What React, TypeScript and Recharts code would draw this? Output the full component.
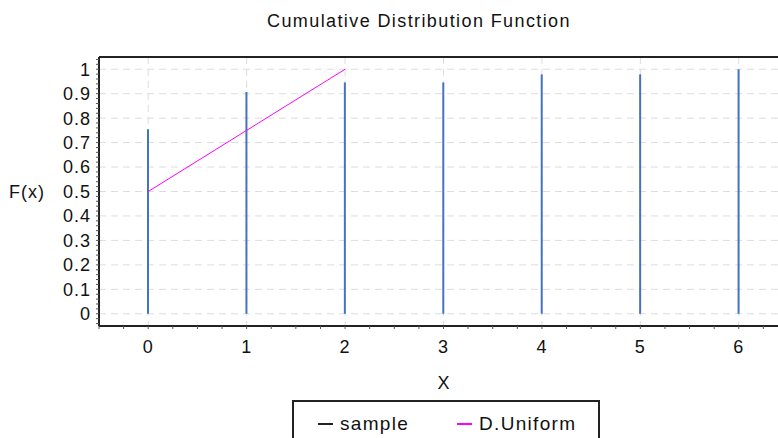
import {
  ComposedChart,
  Bar,
  Line,
  XAxis,
  YAxis,
  CartesianGrid,
  Legend,
  ReferenceLine,
} from "recharts";

const X_VALUES = [0, 1, 2, 3, 4, 5, 6];
const SAMPLE_CDF = [0.755, 0.907, 0.946, 0.946, 0.979, 0.979, 1.0];
const UNIFORM_CDF = [0.5, 0.75, 1.0, null, null, null, null];

const X_LABELS = [0, 1, 2, 3, 4, 5, 6];
const Y_LABELS = [0, 0.1, 0.2, 0.3, 0.4, 0.5, 0.6, 0.7, 0.8, 0.9, 1];

// minor tick marks, quarter steps on x and 0.02 steps on y
const X_MINOR = Array.from({ length: 29 }, (_, i) => -0.5 + i * 0.25);
const Y_MINOR = Array.from({ length: 55 }, (_, i) => Math.round(-4 + i * 2) / 100);

const BLUE = "#4472C4";
const MAGENTA = "#FF00FF";
const INK = "#111";
const FONT = "'Liberation Sans', Arial, sans-serif";

const rows = X_VALUES.map((x, i) => ({
  x,
  sample: SAMPLE_CDF[i],
  uniform: UNIFORM_CDF[i],
}));

const tickStyle = { fill: INK, fontFamily: FONT, fontSize: 18, letterSpacing: 1 };

function fmtX(v: number) {
  return Number.isInteger(v) ? String(v) : "";
}

function fmtY(v: number) {
  const hit = Y_LABELS.find((l) => Math.abs(l - v) < 1e-6);
  return hit === undefined ? "" : String(hit);
}

function LegendBox() {
  const item = (color: string, text: string, gap: number) => (
    <span style={{ display: "inline-flex", alignItems: "center", marginLeft: gap }}>
      <span style={{ display: "inline-block", width: 15, height: 2, background: color, marginRight: 7 }} />
      <span>{text}</span>
    </span>
  );
  return (
    <div
      style={{
        boxSizing: "border-box",
        width: 308,
        height: 60,
        border: "2px solid #222",
        fontFamily: FONT,
        fontSize: 19,
        letterSpacing: 1.3,
        color: INK,
        paddingTop: 6,
        whiteSpace: "nowrap",
      }}
    >
      {item("#222", "sample", 24)}
      {item(MAGENTA, "D.Uniform", 48)}
    </div>
  );
}

export default function App() {
  return (
    <div
      style={{
        position: "absolute",
        left: 0,
        top: 0,
        width: 778,
        height: 438,
        overflow: "hidden",
        background: "#fff",
      }}
    >
      <div
        style={{
          position: "absolute",
          top: 12,
          left: 0,
          width: 838,
          textAlign: "center",
          fontFamily: FONT,
          fontSize: 18,
          lineHeight: "18px",
          letterSpacing: 1.4,
          color: INK,
        }}
      >
        Cumulative Distribution Function
      </div>
      <ComposedChart
        width={800}
        height={438}
        data={rows}
        margin={{ top: 57, right: 12, left: 0, bottom: 82 }}
      >
        <CartesianGrid
          stroke="#dddddd"
          strokeDasharray="7 5"
          horizontalValues={Y_LABELS}
          verticalValues={X_LABELS}
        />
        <XAxis
          dataKey="x"
          type="number"
          domain={[-0.5, 6.5]}
          ticks={X_MINOR}
          interval={0}
          tickFormatter={fmtX}
          tickSize={3}
          tickMargin={11}
          height={30}
          stroke="#222"
          strokeWidth={2}
          tick={tickStyle}
          tickLine={{ stroke: "#555", strokeWidth: 1 }}
          allowDataOverflow
          label={{ value: "X", position: "bottom", offset: 20, fill: INK, fontFamily: FONT, fontSize: 18 }}
        />
        <YAxis
          type="number"
          domain={[-0.05, 1.05]}
          ticks={Y_MINOR}
          interval={0}
          tickFormatter={fmtY}
          tickSize={3}
          tickMargin={5}
          width={99}
          stroke="#222"
          strokeWidth={2}
          tick={tickStyle}
          tickLine={{ stroke: "#555", strokeWidth: 1 }}
          allowDataOverflow
          label={{ value: "F(x)", position: "insideLeft", offset: 9, fill: INK, fontFamily: FONT, fontSize: 18, letterSpacing: 1 }}
        />
        <ReferenceLine y={1.05} stroke="#222" strokeWidth={2} ifOverflow="visible" />
        <Legend
          layout="horizontal"
          verticalAlign="middle"
          align="center"
          wrapperStyle={{ top: 400, left: 292, width: 308, height: 60 }}
          content={() => <LegendBox />}
        />
        <Bar dataKey="sample" name="sample" fill={BLUE} barSize={2} isAnimationActive={false} />
        <Line
          dataKey="uniform"
          name="D.Uniform"
          type="linear"
          stroke={MAGENTA}
          strokeWidth={1}
          dot={false}
          connectNulls={false}
          isAnimationActive={false}
        />
      </ComposedChart>
    </div>
  );
}
